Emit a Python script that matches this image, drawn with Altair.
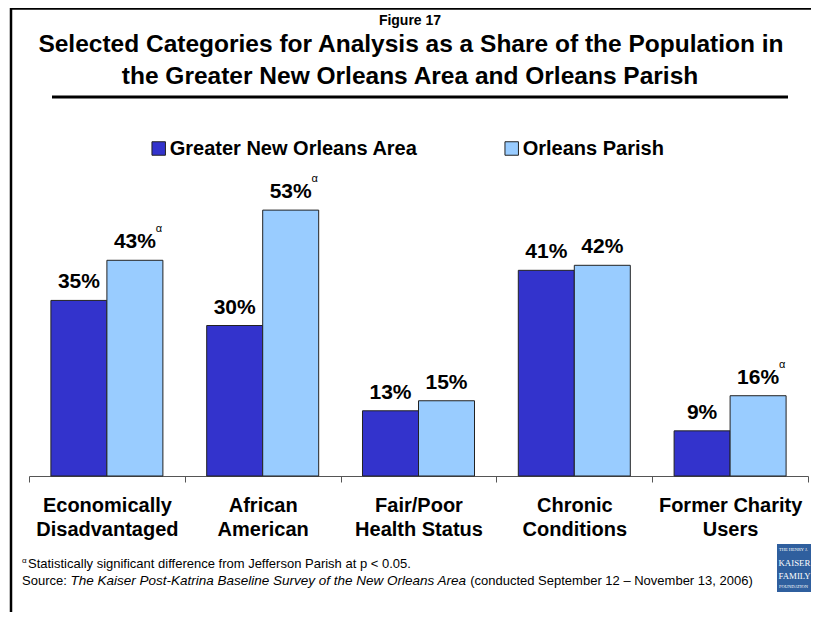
import altair as alt
import pandas as pd

# ---------------- data ----------------
categories = ["Economically Disadvantaged", "African American",
              "Fair/Poor Health Status", "Chronic Conditions", "Former Charity Users"]
category_lines = [["Economically", "Disadvantaged"], ["African", "American"],
                  ["Fair/Poor", "Health Status"], ["Chronic", "Conditions"],
                  ["Former Charity", "Users"]]
series = ["Greater New Orleans Area", "Orleans Parish"]
greater_values = [35, 30, 13, 41, 9]
orleans_values = [43, 53, 15, 42, 16]
orleans_significant = [True, True, False, False, True]
colors = ["#3333CC", "#99CCFF"]

fig_label = "Figure 17"
title_lines = ["Selected Categories for Analysis as a Share of the Population in",
               "the Greater New Orleans Area and Orleans Parish"]
sig_mark = "\u03b1"
footnote = "Statistically significant difference from Jefferson Parish at p < 0.05."
source_prefix = "Source: "
source_title = "The Kaiser Post-Katrina Baseline Survey of the New Orleans Area"
source_suffix = " (conducted September 12 \u2013 November 13, 2006)"
logo_lines = ["THE HENRY J.", "KAISER", "FAMILY", "FOUNDATION"]

rows = []
for i, c in enumerate(categories):
    rows.append({"category": c, "series": series[0], "value": greater_values[i],
                 "label": f"{greater_values[i]}%", "sig": False})
    rows.append({"category": c, "series": series[1], "value": orleans_values[i],
                 "label": f"{orleans_values[i]}%", "sig": orleans_significant[i]})
df = pd.DataFrame(rows)

# ---------------- layout ----------------
PLOT_LEFT, PLOT_TOP = 29, 175
W, H = 779, 301
FONT = "Liberation Sans"


def px(x):
    return x - PLOT_LEFT


def py(y):
    return y - PLOT_TOP


# Arial-compatible advance widths (1/1000 em), used to place the mixed-style source line
_w = {' ': 278, '(': 333, ')': 333, ',': 278, '-': 333, '.': 278, ':': 278, '/': 278,
      '\u2013': 556, '<': 584}
for ch in "0123456789":
    _w[ch] = 556
_w.update(dict(zip("ABCDEFGHIJKLMNOPQRSTUVWXYZ",
                   [667, 667, 722, 722, 667, 611, 778, 722, 278, 500, 667, 556, 833,
                    722, 778, 667, 778, 722, 667, 611, 722, 667, 944, 667, 667, 611])))
_w.update(dict(zip("abcdefghijklmnopqrstuvwxyz",
                   [556, 556, 500, 556, 556, 278, 556, 556, 222, 222, 500, 222, 833,
                    556, 556, 556, 556, 333, 500, 278, 556, 500, 722, 500, 500, 500])))


def tw(s, size):
    return sum(_w.get(c, 556) for c in s) * size / 1000.0


label_expr = ""
for c, lines in zip(categories, category_lines):
    label_expr += f"datum.value == '{c}' ? {lines!r} : "
label_expr += "datum.value"

x_enc = alt.X("category:N", sort=categories,
              scale=alt.Scale(paddingInner=0, paddingOuter=0),
              axis=alt.Axis(title=None, labelExpr=label_expr, labelAngle=0,
                            tickBand="extent", tickSize=6, tickColor="#555555",
                            domainColor="#555555", domainWidth=1,
                            labelFont=FONT, labelFontWeight="bold", labelFontSize=20,
                            labelColor="black", labelLineHeight=24, labelPadding=13,
                            labelLimit=400, labelOverlap=False, grid=False))
xo_enc = alt.XOffset("series:N", sort=series,
                     scale=alt.Scale(paddingInner=0, paddingOuter=0.391))
y_enc = alt.Y("value:Q", scale=alt.Scale(domain=[0, 60]), axis=None)

base = alt.Chart(df)

bars = base.mark_bar(stroke="#222222", strokeWidth=1, opacity=1).encode(
    x=x_enc, xOffset=xo_enc, y=y_enc,
    color=alt.Color("series:N", sort=series,
                    scale=alt.Scale(domain=series, range=colors),
                    legend=alt.Legend(title=None, orient="none", legendX=119.7, legendY=-36.5,
                                      direction="horizontal", symbolType="square",
                                      symbolSize=182, symbolStrokeColor="#222222",
                                      symbolStrokeWidth=1, symbolOpacity=1,
                                      labelFont=FONT, labelFontWeight="bold",
                                      labelFontSize=20, labelColor="black",
                                      labelOffset=1, columnPadding=84, labelLimit=400,
                                      padding=0)),
)

value_labels = base.mark_text(font=FONT, fontWeight="bold", fontSize=21,
                              baseline="alphabetic", dy=-12, color="black").encode(
    x=x_enc, xOffset=xo_enc, y=y_enc, text="label:N")

sig_labels = base.transform_filter("datum.sig").mark_text(
    font=FONT, fontSize=11, baseline="alphabetic", dx=24, dy=-28, color="black").encode(
    x=x_enc, xOffset=xo_enc, y=y_enc, text=alt.value(sig_mark))


def text_layer(s, x, y, size, weight="normal", align="center", style="normal",
               font=FONT, color="black"):
    return alt.Chart(pd.DataFrame({"t": [s.strip()]})).mark_text(
        font=font, fontSize=size, fontWeight=weight, fontStyle=style, align=align,
        baseline="alphabetic", color=color).encode(
        x=alt.value(px(x)), y=alt.value(py(y)), text="t:N")


def hrule(x1, x2, y, width, color="black"):
    return alt.Chart(pd.DataFrame({"t": [0]})).mark_rule(
        color=color, strokeWidth=width).encode(
        x=alt.value(px(x1)), x2=alt.value(px(x2)), y=alt.value(py(y)))


def vrule(x, y1, y2, width, color="black"):
    return alt.Chart(pd.DataFrame({"t": [0]})).mark_rule(
        color=color, strokeWidth=width).encode(
        x=alt.value(px(x)), y=alt.value(py(y1)), y2=alt.value(py(y2)))


layers = [bars, value_labels, sig_labels]

# frame and title
layers.append(hrule(11, 811, 8.5, 2.5))
layers.append(vrule(11, 8, 612, 2.5))
layers.append(text_layer(fig_label, 410, 25, 14, "bold"))
layers.append(text_layer(title_lines[0], 411, 52, 24.5, "bold"))
layers.append(text_layer(title_lines[1], 410, 84, 24.5, "bold"))
layers.append(hrule(52, 788, 97, 3))

# footnotes
REG, ITA = 13, 13.5
layers.append(text_layer(sig_mark, 22, 563, 8, align="left"))
layers.append(text_layer(footnote, 28, 568, REG, align="left"))
x0 = 22
layers.append(text_layer(source_prefix, x0, 585, REG, align="left"))
x1 = x0 + tw(source_prefix, REG)
layers.append(text_layer(source_title, x1, 585, ITA, align="left", style="italic"))
x2 = x1 + tw(source_title, ITA) + tw(" ", REG)
layers.append(text_layer(source_suffix, x2, 585, REG, align="left"))

# logo
logo = alt.Chart(pd.DataFrame({"t": [0]})).mark_rect(color="#2F5F9E").encode(
    x=alt.value(px(777)), x2=alt.value(px(811)), y=alt.value(py(544)), y2=alt.value(py(592)))
layers.append(logo)
layers.append(text_layer(logo_lines[0], 779, 551, 4.5, align="left", font="Liberation Serif", color="white"))
layers.append(text_layer(logo_lines[1], 778.5, 566, 8.8, align="left", font="Liberation Serif", color="white"))
layers.append(text_layer(logo_lines[2], 778.5, 579, 8.8, align="left", font="Liberation Serif", color="white"))
layers.append(text_layer(logo_lines[3], 779, 588, 4.5, align="left", font="Liberation Serif", color="white"))

chart = alt.layer(*layers).properties(
    width=W, height=H, autosize="none",
    padding={"left": 21, "top": 167, "right": 3, "bottom": 136},
    background="white",
).configure_view(stroke=None)

chart.save("out.html", embed_options={"renderer": "svg", "actions": False})
